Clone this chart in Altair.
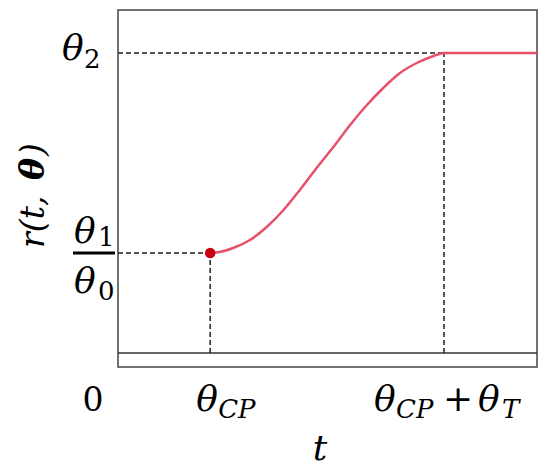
import altair as alt
import pandas as pd

# curve samples (t in axis units, r in axis units)
t_vals = [0.0, 2.2, 2.43, 2.75, 3.15, 3.55, 3.95, 4.34, 4.74, 5.14, 5.54, 5.94, 6.33, 6.73, 7.13, 7.53, 7.78, 10.0]
r_vals = [1.0, 1.0, 1.01, 1.05, 1.13, 1.26, 1.43, 1.63, 1.85, 2.06, 2.28, 2.48, 2.65, 2.8, 2.9, 2.97, 3.0, 3.0]
t_cp = 2.2
t_end = 7.78
r_start = 1.0
r_top = 3.0

W, H = 419, 357
xs = alt.Scale(domain=[0, 10], nice=False, zero=False)
ys = alt.Scale(domain=[-0.14, 3.43], nice=False, zero=False)

curve_df = pd.DataFrame({"t": t_vals, "r": r_vals})
curve_df = curve_df[curve_df["t"] >= t_cp]

X = lambda f: alt.X(f, type="quantitative", scale=xs, axis=None)
Y = lambda f: alt.Y(f, type="quantitative", scale=ys, axis=None)

base = alt.Chart(pd.DataFrame({"a": [0]}))

zero_line = base.mark_rule(color="#333333", strokeWidth=1.5).encode(
    x=alt.datum(0, scale=xs, axis=None), x2=alt.datum(10), y=alt.datum(0, scale=ys, axis=None))

dash = dict(color="#222222", strokeWidth=1.5, strokeDash=[5, 3])
d1 = base.mark_rule(**dash).encode(x=alt.datum(0, scale=xs, axis=None), x2=alt.datum(t_cp), y=alt.datum(r_start, scale=ys, axis=None))
d2 = base.mark_rule(**dash).encode(x=alt.datum(t_cp, scale=xs, axis=None), y=alt.datum(0, scale=ys, axis=None), y2=alt.datum(r_start))
d3 = base.mark_rule(**dash).encode(x=alt.datum(0, scale=xs, axis=None), x2=alt.datum(t_end), y=alt.datum(r_top, scale=ys, axis=None))
d4 = base.mark_rule(**dash).encode(x=alt.datum(t_end, scale=xs, axis=None), y=alt.datum(0, scale=ys, axis=None), y2=alt.datum(r_top))

curve = alt.Chart(curve_df).mark_line(color="#e8506a", strokeWidth=2.5, interpolate="monotone").encode(x=X("t"), y=Y("r"))
dot = base.mark_circle(color="#c8000f", size=110, opacity=1).encode(
    x=alt.datum(t_cp, scale=xs, axis=None), y=alt.datum(r_start, scale=ys, axis=None))

FONT = "DejaVu Serif"

def txt(text, x, y, size, italic=True, align="left", bold=False, angle=None, dx=0, dy=0):
    kw = dict(text=text, font=FONT, fontSize=size, align=align, baseline="alphabetic",
              fontStyle="italic" if italic else "normal", fontWeight="bold" if bold else "normal",
              color="black", dx=dx, dy=dy)
    if angle is not None:
        kw["angle"] = angle
    return base.mark_text(**kw).encode(x=x, y=y)

xv = lambda v: alt.value(v)
MAIN, SUB = 36, 26
labels = []
# y labels
labels.append(txt("θ", xv(-56), alt.datum(r_top, scale=ys, axis=None), MAIN, dy=7))
labels.append(txt("2", xv(-34), alt.datum(r_top, scale=ys, axis=None), SUB, italic=False, dy=15))
labels.append(txt("θ", xv(-44), alt.datum(r_start, scale=ys, axis=None), MAIN, dy=-10))
labels.append(txt("1", xv(-20), alt.datum(r_start, scale=ys, axis=None), SUB, italic=False, dy=-7))
labels.append(txt("θ", xv(-44), alt.datum(r_start, scale=ys, axis=None), MAIN, dy=40))
labels.append(txt("0", xv(-20), alt.datum(r_start, scale=ys, axis=None), SUB, italic=False, dy=47))
frac = base.mark_rule(color="black", strokeWidth=3).encode(
    x=alt.value(-45), x2=alt.value(-3), y=alt.datum(r_start, scale=ys, axis=None))
# x labels
yb = alt.value(401)
ysub = alt.value(408)
labels.append(txt("0", xv(-25), yb, 33, italic=False, align="center"))
labels.append(txt("θ", alt.datum(t_cp, scale=xs, axis=None), yb, MAIN, dx=-14))
labels.append(txt("CP", alt.datum(t_cp, scale=xs, axis=None), ysub, SUB, dx=8))
labels.append(txt("θ", alt.datum(t_end, scale=xs, axis=None), yb, MAIN, dx=-70))
labels.append(txt("CP", alt.datum(t_end, scale=xs, axis=None), ysub, SUB, dx=-48))
labels.append(txt("+", alt.datum(t_end, scale=xs, axis=None), yb, 36, italic=False, align="center", dx=14))
labels.append(txt("θ", alt.datum(t_end, scale=xs, axis=None), yb, MAIN, dx=34))
labels.append(txt("T", alt.datum(t_end, scale=xs, axis=None), ysub, SUB, dx=58))
# axis titles
labels.append(txt("t", xv(202), alt.value(450), 36, align="center"))
labels.append(txt("r(t,", xv(-74), alt.value(238), 33, angle=270))
labels.append(txt("θ", xv(-74), alt.value(170), 33, angle=270, bold=True))
labels.append(txt(")", xv(-74), alt.value(146), 33, angle=270))

chart = alt.layer(zero_line, d1, d2, d3, d4, curve, dot, frac, *labels).properties(
    width=W, height=H,
    autosize=alt.AutoSizeParams(type="none"),
    padding={"left": 110, "top": 2, "right": 5, "bottom": 105},
).configure_view(stroke="#444444", strokeWidth=1.5)

chart.save("out.html", embed_options={"renderer": "svg", "actions": False})
